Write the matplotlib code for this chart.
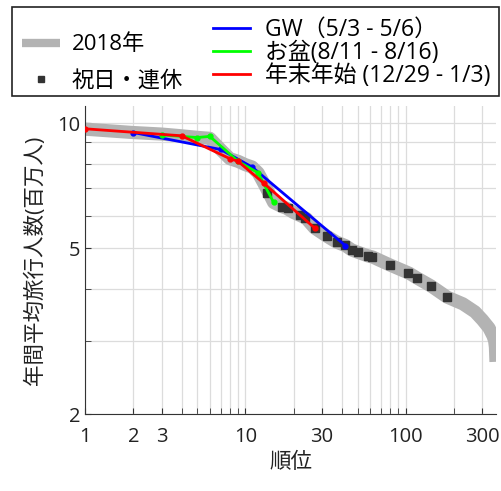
import matplotlib
matplotlib.use("Agg")
import matplotlib.pyplot as plt
from matplotlib.lines import Line2D
from matplotlib.patches import Rectangle
from matplotlib.ticker import FixedLocator, NullFormatter

plt.rcParams['font.family'] = ['Open Sans', 'Noto Sans CJK JP', 'DejaVu Sans']

# 2018年 (順位, 旅行人数[百万人])
rank18 = [1, 2, 3, 4, 5, 6, 7, 8, 9, 10, 11, 12, 13, 14, 15, 17, 18, 20, 22, 24,
          27, 32, 37, 42, 46, 50, 58, 62, 80, 105, 117, 144, 181, 227, 270, 300,
          330, 350, 358, 362, 365]
val18 = [9.68, 9.5, 9.42, 9.33, 9.25, 9.2, 8.65, 8.22, 8.1, 7.95, 7.85, 7.6, 7.18,
         6.8, 6.45, 6.3, 6.25, 6.1, 6.0, 5.9, 5.6, 5.36, 5.18, 5.08, 4.96, 4.9,
         4.8, 4.77, 4.56, 4.36, 4.25, 4.06, 3.82, 3.68, 3.52, 3.37, 3.22, 3.08,
         3.0, 2.9, 2.67]

# 祝日・連休
rank_hol = [13.6, 16.9, 18.4, 21.9, 23.5, 27.2, 32.3, 37.3, 41.8, 46.2, 50.4,
            58.1, 61.5, 79.7, 103, 117, 144, 181]
val_hol = [6.79, 6.29, 6.25, 6.02, 5.92, 5.6, 5.36, 5.18, 5.09, 4.96, 4.9,
           4.8, 4.77, 4.56, 4.37, 4.25, 4.06, 3.82]

rank_gw = [2, 7, 11, 42]
val_gw = [9.5, 8.65, 7.85, 5.08]

rank_obon = [3, 5, 6, 9, 12, 15]
val_obon = [9.38, 9.24, 9.3, 8.1, 7.6, 6.45]

rank_nenmatsu = [1, 4, 8, 9, 13, 27]
val_nenmatsu = [9.7, 9.33, 8.22, 8.1, 7.18, 5.6]

fig = plt.figure(figsize=(5.01, 4.91), dpi=100)
ax = fig.add_axes([0.1697, 0.1568, 0.8203, 0.6272])

gray = '#b3b3b3'
ax.plot(rank18, val18, color=gray, lw=9.5, solid_capstyle='butt', zorder=2)
ax.plot(rank_hol, val_hol, 's', color='#333333', ms=6, zorder=3)
ax.plot(rank_gw, val_gw, '-o', color='#0000ff', lw=2, ms=3.5, zorder=4)
ax.plot(rank_obon, val_obon, '-o', color='#00ff00', lw=2, ms=3.5, zorder=5)
ax.plot(rank_nenmatsu, val_nenmatsu, '-o', color='#ff0000', lw=2, ms=3.5, zorder=6)

ax.set_xscale('log')
ax.set_yscale('log')
ax.set_xlim(1, 365)
ax.set_ylim(2, 11)

xmaj = [1, 2, 3, 10, 30, 100, 300]
xmin = [4, 5, 6, 7, 8, 9, 20, 40, 50, 60, 70, 80, 90, 200]
ymaj = [2, 5, 10]
ymin = [3, 4, 6, 7, 8, 9]
ax.xaxis.set_major_locator(FixedLocator(xmaj))
ax.xaxis.set_minor_locator(FixedLocator(xmin))
ax.xaxis.set_minor_formatter(NullFormatter())
ax.set_xticklabels([str(v) for v in xmaj])
ax.yaxis.set_major_locator(FixedLocator(ymaj))
ax.yaxis.set_minor_locator(FixedLocator(ymin))
ax.yaxis.set_minor_formatter(NullFormatter())
ax.set_yticklabels([str(v) for v in ymaj])

ax.grid(True, which='both', color='#dcdcdc', lw=0.9)
ax.set_axisbelow(True)
ax.tick_params(which='both', direction='in', length=4, color='#333333',
               labelsize=14.5, labelcolor='#222222')
ax.tick_params(axis='x', pad=9)
for s in ['top', 'right']:
    ax.spines[s].set_visible(False)
for s in ['left', 'bottom']:
    ax.spines[s].set_color('#333333')

ax.set_xlabel('順位', fontsize=15.5, color='#222222', labelpad=4)
ax.set_ylabel('年間平均旅行人数(百万人)', fontsize=15.5, color='#222222', labelpad=8)

# 凡例
fig.patches.append(Rectangle((12 / 501, 1 - 96 / 491), 487 / 501, 89 / 491,
                             transform=fig.transFigure, fill=False,
                             edgecolor='#222222', lw=1.2))
h1 = [Line2D([], [], color=gray, lw=6, solid_capstyle='butt'),
      Line2D([], [], ls='', marker='s', color='#333333', ms=4.5)]
leg1 = fig.legend(h1, ['2018年', '祝日・連休'], loc='center left',
                  bbox_to_anchor=(13 / 501, 1 - 63 / 491), frameon=False,
                  fontsize=16, handlelength=1.7, labelspacing=0.68,
                  handletextpad=0.55, borderaxespad=0)
h2 = [Line2D([], [], color='#0000ff', lw=2),
      Line2D([], [], color='#00ff00', lw=2),
      Line2D([], [], color='#ff0000', lw=2)]
leg2 = fig.legend(h2, ['GW（5/3 - 5/6）', 'お盆(8/11 - 8/16)', '年末年始 (12/29 - 1/3)'],
                  loc='center left', bbox_to_anchor=(204 / 501, 1 - 53 / 491),
                  frameon=False, fontsize=16.5, handlelength=1.6,
                  labelspacing=-0.05, handletextpad=0.65, borderaxespad=0)

fig.savefig('out.png', dpi=100)
